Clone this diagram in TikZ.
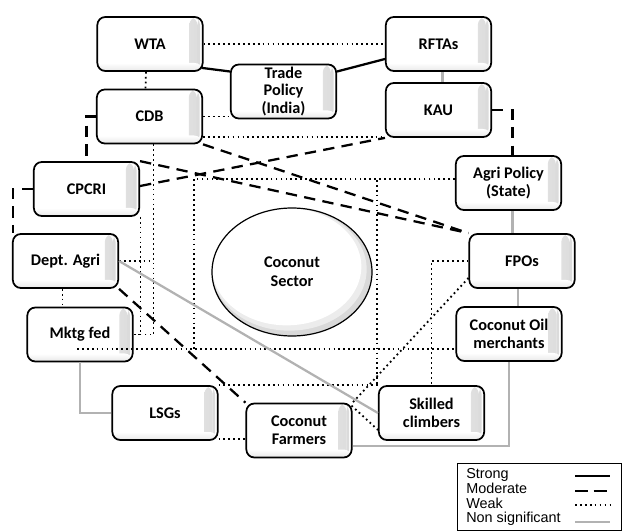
\documentclass[tikz,border=0pt]{standalone}
\usepackage{fontspec}
\setmainfont{Carlito}
\newfontfamily\legfont{Liberation Sans}
\usetikzlibrary{calc,shapes.geometric}
\begin{document}
\begin{tikzpicture}[x=0.75pt,y=-0.75pt,
  box/.style={draw=black, line width=1.3pt, rounded corners=6pt, fill=white,
    minimum width=79pt, minimum height=40.5pt, inner sep=0pt, align=center,
    font=\fontsize{12.2}{13.2}\selectfont\bfseries,
    path picture={
      \shade[left color=white, right color=gray!28]
        ([xshift=-10pt]path picture bounding box.south east) rectangle
        ([xshift=-4pt]path picture bounding box.north east);
      \fill[gray!28] ([xshift=-4pt]path picture bounding box.south east) rectangle
        ([xshift=-2pt]path picture bounding box.north east);
      \shade[top color=white, bottom color=gray!18]
        ([yshift=6pt]path picture bounding box.south west) rectangle
        (path picture bounding box.south east);
    }},
  sectorst/.style={ellipse, draw=black, line width=0.9pt, minimum width=120pt,
    minimum height=96pt, inner sep=0pt, align=center,
    font=\fontsize{12.2}{14}\selectfont\bfseries,
    path picture={
      \fill[gray!30] (path picture bounding box.south west) rectangle (path picture bounding box.north east);
      \fill[gray!15] ([xshift=-2pt,yshift=2pt]path picture bounding box.center) ellipse [x radius=58pt, y radius=46pt];
      \fill[white] ([xshift=-4pt,yshift=4pt]path picture bounding box.center) ellipse [x radius=56pt, y radius=44pt];
    }},
  strong/.style={line width=1.7pt, black},
  moderate/.style={line width=1.7pt, black, dash pattern=on 8.5pt off 5.5pt},
  weak/.style={line width=1.35pt, black, dash pattern=on 1.3pt off 2.4pt},
  nonsig/.style={line width=1.7pt, gray!60},
  legtext/.style={font=\legfont\fontsize{10.8}{12}\selectfont, inner sep=0pt, anchor=base west},
]
\useasboundingbox (0,0) rectangle (622,531);

% nodes
\node[box] (wta) at (150,44) {WTA};
\node[box] (rftas) at (438.5,44) {RFTAs};
\node[box] (trade) at (283.5,91.5) {Trade\\Policy\\(India)};
\node[box] (cdb) at (149.5,116.5) {CDB};
\node[box] (kau) at (438.5,110) {KAU};
\node[box] (cpcri) at (86.5,189) {CPCRI};
\node[box] (agri) at (508.5,183) {Agri Policy\\(State)};
\node[box] (dept) at (65.5,261) {Dept. Agri};
\node[box] (fpos) at (522,261) {FPOs};
\node[box] (mktg) at (80,334.5) {Mktg fed};
\node[box] (oil) at (509,334) {Coconut Oil\\merchants};
\node[box] (lsgs) at (165,413) {LSGs};
\node[box] (farmers) at (299,430.5) {Coconut\\Farmers};
\node[box] (climbers) at (431.5,413) {Skilled\\climbers};
\node[sectorst] (sector) at (292,272) {Coconut\\Sector};

% helper coordinates
\coordinate (cdbdrop) at ($(cdb.south)+(4,0)$);
\coordinate (cdbk) at ($(cdb.east)+(0,20.5)$);
\coordinate (aw) at ($(agri.west)+(0,-4)$);
\coordinate (mrow) at ($(mktg.south)+(-3,-13)$);
\coordinate (j1) at (194,349);
\coordinate (lsgsb) at ($(lsgs.east)+(0,26)$);
\coordinate (deptd) at ($(dept.south)+(-3,0)$);
\coordinate (rk) at ($(rftas.south)+(4,0)$);
\coordinate (af) at ($(agri.south)+(4,0)$);
\coordinate (fo) at ($(fpos.south)+(-4,0)$);

% strong
\draw[strong] ($(wta.south east)+(-2,-4)$) -- ($(trade.west)+(0,-20)$);
\draw[strong] ($(trade.east)+(0,-20)$) -- ($(rftas.west)+(0,15)$);

% weak
\draw[weak] (wta.east) -- (rftas.west);
\draw[weak] ($(wta.south)+(-4,0)$) -- ($(cdb.north)+(-4,0)$);
\draw[weak] (cdb.east) -- (cdb.east -| trade.west);
\draw[weak] (cdbk) -- (cdbk -| kau.west);
\draw[weak] (cdbdrop) |- (mktg.east);
\draw[weak] ($(cpcri.south east)+(0.5,0)$) |- (mktg.east);
\draw[weak] (dept.east) -- (dept.east -| cdbdrop);
\draw[weak] (aw) -| (j1);
\draw[weak] (aw) -| ($(climbers.north west)+(-1,0)$);
\draw[weak] (mrow) -- (mrow -| oil.west);
\draw[weak] (fpos.west) -| (climbers.north);
\draw[weak] ($(fpos.west)+(0,17)$) -- (farmers.north east);
\draw[weak] ($(farmers.north east)+(-1,3)$) -- ($(climbers.west)+(0,17)$);
\draw[weak] (lsgs.north east) -- (climbers.north west);
\draw[weak] (lsgsb) -- (lsgsb -| farmers.west);
\draw[weak] (deptd) -- (deptd |- mktg.north);

% moderate
\draw[moderate] (cdb.west) -| (cpcri.north);
\draw[moderate] (kau.east) -| ($(agri.north)+(4,0)$);
\draw[moderate] (cpcri.west) -| ($(dept.north west)+(1,0)$);
\draw[moderate] (cdb.south east) -- (fpos.north west);
\draw[moderate] (cpcri.north east) -- (fpos.north west);
\draw[moderate] ($(cpcri.east)+(0,-3)$) -- (kau.south west);
\draw[moderate] (dept.south east) -- (farmers.north west);

% non significant
\draw[nonsig] (rk) -- (rk |- kau.north);
\draw[nonsig] (af) -- (af |- fpos.north);
\draw[nonsig] (fo) -- (fo |- oil.north);
\draw[nonsig] (mktg.south) |- (lsgs.west);
\draw[nonsig] ($(farmers.east)+(0,15.5)$) -| (oil.south);
\draw[nonsig] (dept.east) -- (climbers.west);

% legend
\node[draw=black, line width=0.6pt, minimum width=123pt, minimum height=50pt, inner sep=0pt, anchor=north west] (legend) at (457,463) {};
\node[legtext] (l1) at (466,479) {Strong};
\node[legtext] (l2) at (466,493.5) {Moderate};
\node[legtext] (l3) at (466,508) {Weak};
\node[legtext] (l4) at (466,522.5) {Non significant};
\coordinate (s1a) at (575,476); \coordinate (s1b) at (610,476);
\coordinate (s2a) at (575,491); \coordinate (s2b) at (612,491);
\coordinate (s3a) at (575,505); \coordinate (s3b) at (610,505);
\coordinate (s4a) at (575,522); \coordinate (s4b) at (610,522);
\draw[strong] (s1a) -- (s1b);
\draw[line width=1.8pt, black, dash pattern=on 10pt off 4pt] (s2a) -- (s2b);
\draw[weak] (s3a) -- (s3b);
\draw[nonsig] (s4a) -- (s4b);
\end{tikzpicture}
\end{document}
